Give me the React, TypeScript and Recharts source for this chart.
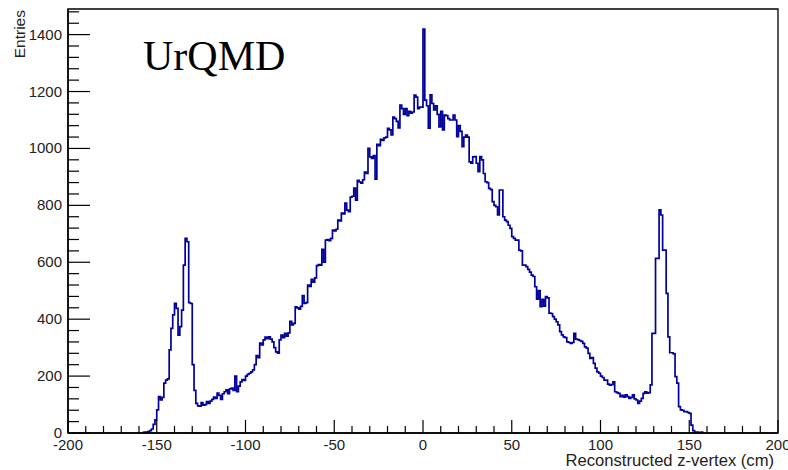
import React from 'react';
import { LineChart, Line, XAxis, YAxis, ReferenceArea } from 'recharts';

// 1 cm bins, first lower edge at -158 cm
const FIRST_EDGE = -158;
const entries = [
  2, 3, 3, 5, 8, 14, 30, 46, // -158 .. -151
  81, 128, 116, 125, 175, 186, 190, 292, 368, 415, // -150
  456, 438, 344, 374, 432, 590, 684, 672, 458, 455, // -140
  240, 150, 104, 95, 94, 107, 98, 100, 110, 104, // -130
  112, 118, 126, 122, 140, 132, 118, 138, 145, 152, // -120
  138, 155, 158, 150, 200, 145, 165, 180, 188, 185, // -110
  200, 206, 210, 215, 222, 240, 272, 265, 316, 310, // -100
  327, 337, 332, 338, 330, 320, 300, 285, 281, 327, // -90
  344, 335, 350, 340, 352, 392, 380, 385, 443, 440, // -80
  435, 445, 483, 455, 458, 520, 515, 540, 530, 545, // -70
  588, 592, 590, 645, 600, 678, 680, 676, 684, 713, // -60
  710, 716, 748, 745, 773, 770, 808, 783, 778, 829, // -50
  832, 861, 818, 888, 882, 878, 890, 917, 912, 1000, // -40
  970, 965, 975, 892, 1014, 1010, 1032, 1028, 1037, 1040, // -30
  1071, 1065, 1048, 1110, 1105, 1095, 1072, 1152, 1140, 1120, // -20
  1140, 1115, 1130, 1124, 1128, 1187, 1180, 1140, 1145, 1145, // -10
  1419, 1170, 1150, 1071, 1188, 1158, 1135, 1150, 1120, 1076, // 0
  1130, 1065, 1117, 1115, 1105, 1100, 1100, 1117, 1100, 1041, // 10
  1080, 1060, 1006, 1040, 1047, 1040, 953, 948, 970, 971, // 20
  948, 918, 971, 960, 912, 883, 880, 860, 855, 813, // 30
  800, 795, 766, 854, 854, 760, 748, 743, 730, 719, // 40
  690, 684, 678, 678, 643, 640, 590, 590, 585, 575, // 50
  565, 555, 550, 514, 470, 500, 444, 470, 446, 479, // 60
  475, 421, 420, 409, 400, 391, 380, 356, 345, 338, // 70
  335, 320, 318, 315, 318, 350, 330, 328, 325, 322, // 80
  315, 303, 298, 280, 262, 265, 245, 228, 215, 210, // 90
  200, 195, 186, 186, 172, 168, 170, 180, 145, 142, // 100
  139, 128, 132, 126, 134, 128, 122, 125, 134, 120, // 110
  116, 104, 112, 122, 139, 145, 140, 142, 169, 350, // 120
  350, 614, 614, 784, 766, 643, 643, 491, 338, 282, // 130
  282, 278, 198, 175, 93, 81, 80, 75, 75, 72, // 140
  69, 28, 8, 3, 3, 2, 2, 3, // 150 .. 157
];

const xLabels = [-200, -150, -100, -50, 0, 50, 100, 150, 200];
const yLabels = [0, 200, 400, 600, 800, 1000, 1200, 1400];
const X_MINOR = 10;
const Y_MINOR = 40;
const Y_MAX = 1490;

const xTicks: number[] = [];
for (let v = -200; v <= 200; v += X_MINOR) xTicks.push(v);
const yTicks: number[] = [];
for (let v = 0; v < Y_MAX; v += Y_MINOR) yTicks.push(v);

// stepAfter needs a closing point at the upper edge of the last bin
const data = entries.map((y, i) => ({ x: FIRST_EDGE + i, y }));
data.push({ x: FIRST_EDGE + entries.length, y: entries[entries.length - 1] });

const FONT = '"Liberation Sans", Arial, Helvetica, sans-serif';

const XTick = (props: any) => {
  const { x, y, payload } = props;
  const major = xLabels.includes(payload.value);
  return (
    <g>
      <line x1={x} x2={x} y1={y} y2={y - (major ? 13 : 7)} stroke="#000" strokeWidth={1.2} />
      {major && (
        <text x={x} y={y + 17} textAnchor="middle" fontFamily={FONT} fontSize={15} fill="#222">
          {payload.value}
        </text>
      )}
    </g>
  );
};

const YTick = (props: any) => {
  const { x, y, payload } = props;
  const major = yLabels.includes(payload.value);
  return (
    <g>
      <line x1={x} x2={x + (major ? 22 : 11)} y1={y} y2={y} stroke="#000" strokeWidth={1.2} />
      {major && (
        <text x={x - 6} y={y + 5} textAnchor="end" fontFamily={FONT} fontSize={15} fill="#222">
          {payload.value}
        </text>
      )}
    </g>
  );
};

export default function App() {
  return (
    <div style={{ position: 'absolute', left: 0, top: 0, width: 788, height: 470, background: '#fff' }}>
      <LineChart width={788} height={470} data={data} margin={{ top: 9, right: 10, bottom: 0, left: 0 }}>
        <XAxis
          type="number"
          dataKey="x"
          domain={[-200, 200]}
          ticks={xTicks}
          interval={0}
          height={37}
          tickSize={0}
          tickMargin={0}
          tickLine={false}
          axisLine={{ stroke: '#000', strokeWidth: 1.5 }}
          tick={<XTick />}
        />
        <YAxis
          type="number"
          domain={[0, Y_MAX]}
          ticks={yTicks}
          interval={0}
          width={68}
          tickSize={0}
          tickMargin={0}
          tickLine={false}
          axisLine={{ stroke: '#000', strokeWidth: 1.5 }}
          tick={<YTick />}
        />
        <ReferenceArea x1={-200} x2={200} y1={0} y2={Y_MAX} fill="none" fillOpacity={0} stroke="#000" strokeWidth={1.3} />
        <Line
          type="stepAfter"
          dataKey="y"
          stroke="#00009a"
          strokeWidth={1.7}
          dot={false}
          isAnimationActive={false}
        />
      </LineChart>
      <svg width={788} height={470} style={{ position: 'absolute', left: 0, top: 0, pointerEvents: 'none' }}>
        <text x={143} y={70} fontFamily='"Liberation Serif", "Times New Roman", serif' fontSize={42} fill="#000">
          UrQMD
        </text>
        <text x={774} y={466} textAnchor="end" fontFamily={FONT} fontSize={16.6} fill="#222">
          Reconstructed z-vertex (cm)
        </text>
        <text transform="translate(25,10) rotate(-90)" textAnchor="end" fontFamily={FONT} fontSize={15.5} fill="#222">
          Entries
        </text>
      </svg>
    </div>
  );
}
